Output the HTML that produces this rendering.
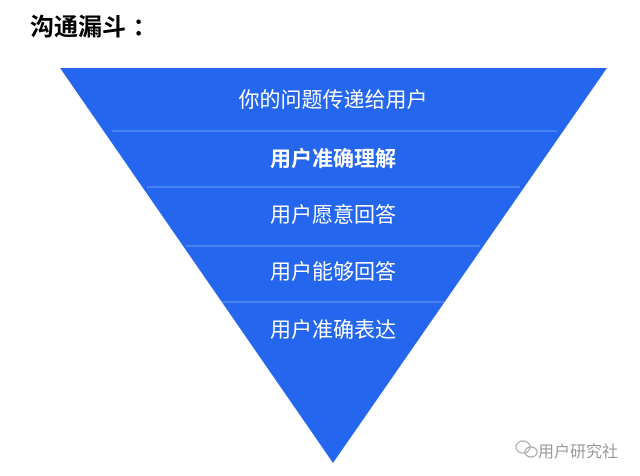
<!DOCTYPE html>
<html><head><meta charset="utf-8"><style>
html,body{margin:0;padding:0;background:#fff;width:640px;height:476px;overflow:hidden;position:relative;font-family:"Liberation Sans","Noto Sans CJK SC",sans-serif}
.t{position:absolute;left:0;width:666px;text-align:center;color:#fff;font-size:21px;line-height:24px}
</style></head><body>
<div style="position:absolute;left:30px;top:7px;font-size:24px;font-weight:bold;color:#000">沟通漏斗 ：</div>
<svg width="640" height="476" style="position:absolute;left:0;top:0">
<polygon points="60,68 607,68 333,463" fill="#2566ee"/>
<g stroke="#6f9cf5" stroke-width="1">
<line x1="112" y1="131" x2="557" y2="131"/>
<line x1="147" y1="187" x2="520" y2="187"/>
<line x1="186" y1="246" x2="480" y2="246"/>
<line x1="222" y1="302" x2="445" y2="302"/>
</g>
<g fill="none" stroke="#aaa" stroke-width="1.2">
<ellipse cx="523" cy="447" rx="7" ry="6"/>
<ellipse cx="531" cy="452" rx="6" ry="5"/>
</g>
</svg>
<div class="t" style="top:89px">你的问题传递给用户</div>
<div class="t" style="top:148px;font-weight:bold">用户准确理解</div>
<div class="t" style="top:204px">用户愿意回答</div>
<div class="t" style="top:261px">用户能够回答</div>
<div class="t" style="top:319px">用户准确表达</div>
<div style="position:absolute;left:538px;top:438px;font-size:16px;color:#999">用户研究社</div>
</body></html>
